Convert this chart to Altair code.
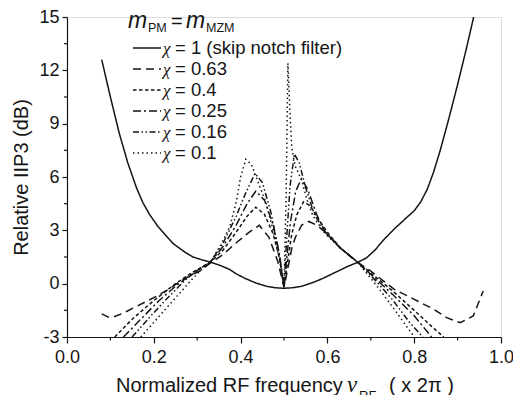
import altair as alt
import pandas as pd

# ---------------- data ----------------
series_names = ["chi=1", "chi=0.63", "chi=0.4", "chi=0.25", "chi=0.16", "chi=0.1"]
legend_labels = ["= 1 (skip notch filter)", "= 0.63", "= 0.4", "= 0.25", "= 0.16", "= 0.1"]
dash_patterns = [[1, 0], [8, 5], [3.5, 2.5], [8, 3, 2, 3], [6, 2.5, 1.5, 2.5, 1.5, 2.5], [1.5, 3]]

x_chi1 = [0.08, 0.10, 0.12, 0.14, 0.16, 0.175, 0.19, 0.21, 0.23, 0.245, 0.27, 0.29, 0.31, 0.33,
          0.35, 0.375, 0.39, 0.41, 0.435, 0.46, 0.48, 0.50, 0.52, 0.54, 0.565, 0.59, 0.617,
          0.645, 0.67, 0.69, 0.71, 0.731, 0.755, 0.784, 0.80, 0.815, 0.83, 0.845, 0.86, 0.88,
          0.90, 0.92, 0.937]
y_chi1 = [12.6, 10.5, 8.5, 6.8, 5.4, 4.55, 3.9, 3.2, 2.65, 2.25, 1.8, 1.5, 1.35, 1.22,
          1.05, 0.8, 0.55, 0.3, 0.04, -0.15, -0.23, -0.26, -0.23, -0.15, 0.05, 0.3, 0.62,
          0.95, 1.2, 1.45, 1.9, 2.5, 3.1, 3.75, 4.1, 4.6, 5.3, 6.3, 7.5, 9.3,
          11.2, 13.2, 15.0]

x_chi063 = [0.08, 0.095, 0.11, 0.13, 0.16, 0.20, 0.234, 0.268, 0.306, 0.33, 0.36, 0.39, 0.42,
            0.443, 0.465, 0.485, 0.50, 0.51, 0.518, 0.526, 0.541, 0.557, 0.575, 0.595, 0.63,
            0.67, 0.70, 0.754, 0.80, 0.845, 0.875, 0.906, 0.936, 0.959]
y_chi063 = [-1.7, -1.88, -1.85, -1.65, -1.28, -0.79, -0.32, 0.25, 0.71, 1.15, 1.65, 2.3, 2.9,
            3.28, 2.62, 1.31, -0.2, 1.0, 2.0, 2.6, 3.3, 3.5, 3.3, 2.9, 2.0,
            1.2, 0.7, -0.32, -0.88, -1.44, -1.91, -2.2, -1.82, -0.41]

x_chi04 = [0.11, 0.15, 0.20, 0.25, 0.29, 0.33, 0.36, 0.39, 0.415, 0.435, 0.455, 0.475, 0.49,
           0.50, 0.508, 0.518, 0.53, 0.545, 0.56, 0.58, 0.60, 0.63, 0.67, 0.71, 0.75, 0.80,
           0.84, 0.868]
y_chi04 = [-3.0, -2.0, -0.95, 0.0, 0.65, 1.2, 1.9, 2.9, 3.8, 4.3, 3.9, 2.8, 1.4,
           -0.2, 1.2, 2.8, 3.9, 4.6, 4.4, 3.6, 2.9, 2.0, 1.2, 0.4, -0.4, -1.5,
           -2.4, -3.0]

x_chi025 = [0.13, 0.17, 0.21, 0.25, 0.29, 0.33, 0.36, 0.39, 0.415, 0.435, 0.455, 0.475, 0.49,
            0.50, 0.507, 0.515, 0.527, 0.54, 0.555, 0.575, 0.595, 0.63, 0.67, 0.71, 0.75,
            0.80, 0.84]
y_chi025 = [-3.0, -2.0, -1.0, -0.15, 0.6, 1.2, 2.1, 3.3, 4.5, 5.2, 4.7, 3.3, 1.6,
            -0.2, 1.6, 3.5, 5.2, 5.9, 5.3, 3.9, 2.9, 2.0, 1.2, 0.3, -0.6,
            -1.8, -3.0]

x_chi016 = [0.15, 0.19, 0.23, 0.27, 0.30, 0.33, 0.36, 0.39, 0.41, 0.433, 0.45, 0.47, 0.488,
            0.50, 0.506, 0.514, 0.524, 0.535, 0.55, 0.57, 0.595, 0.63, 0.67, 0.71, 0.75,
            0.79, 0.82]
y_chi016 = [-3.0, -1.9, -0.85, 0.15, 0.75, 1.2, 2.3, 3.8, 5.0, 6.2, 5.7, 4.0, 1.8,
            -0.2, 2.5, 5.5, 7.3, 6.8, 5.4, 3.9, 2.9, 2.0, 1.2, 0.2, -0.9,
            -2.2, -3.0]

x_chi01 = [0.17, 0.21, 0.25, 0.29, 0.31, 0.33, 0.355, 0.375, 0.39, 0.40, 0.412, 0.425, 0.442,
           0.458, 0.475, 0.49, 0.50, 0.505, 0.509, 0.514, 0.518, 0.526, 0.541, 0.553, 0.567,
           0.595, 0.63, 0.67, 0.71, 0.75, 0.80]
y_chi01 = [-3.0, -1.9, -0.8, 0.3, 0.8, 1.2, 2.2, 3.2, 4.6, 6.0, 7.0, 6.7, 5.6,
           4.6, 3.0, 1.3, -0.2, 5.0, 12.4, 9.5, 7.6, 6.6, 5.8, 4.7, 3.8,
           2.8, 2.0, 1.2, 0.0, -1.3, -3.0]

x_ticks_major = [0.0, 0.2, 0.4, 0.6, 0.8, 1.0]
x_ticks_minor = [0.1, 0.3, 0.5, 0.7, 0.9]
y_ticks_major = [-3, 0, 3, 6, 9, 12, 15]
y_ticks_minor = [-1.5, 1.5, 4.5, 7.5, 10.5, 13.5]

# ---------------- build table ----------------
xs = [x_chi1, x_chi063, x_chi04, x_chi025, x_chi016, x_chi01]
ys = [y_chi1, y_chi063, y_chi04, y_chi025, y_chi016, y_chi01]
rows = []
for name, xv, yv in zip(series_names, xs, ys):
    for i, (a, b) in enumerate(zip(xv, yv)):
        rows.append({"series": name, "x": a, "y": b, "i": i})
df = pd.DataFrame(rows)

SANS = "Liberation Sans, Arial, sans-serif"
SERIF = "Liberation Serif, Times New Roman, serif"
INK = "#151515"

xscale = alt.Scale(domain=[0, 1], nice=False, zero=False)
yscale = alt.Scale(domain=[-3, 15], nice=False, zero=False)

xaxis = alt.Axis(values=x_ticks_major, labelExpr="format(datum.value, '.1f')",
                 title=None, grid=False, tickSize=6, labelPadding=5, labelFlush=False,
                 labelFontSize=18, labelFont=SANS, labelColor=INK,
                 domainColor=INK, tickColor=INK, domainWidth=1.2, tickWidth=1.2)
yaxis = alt.Axis(values=y_ticks_major, labelExpr="'' + datum.value",
                 title="Relative IIP3 (dB)", titleFontSize=20, titleFont=SANS,
                 titleFontWeight="normal", titleColor=INK, titlePadding=7,
                 grid=False, tickSize=5, labelPadding=3, labelFlush=False,
                 labelFontSize=18, labelFont=SANS, labelColor=INK,
                 domainColor=INK, tickColor=INK, domainWidth=1.2, tickWidth=1.2)

lines = alt.Chart(df).mark_line(strokeWidth=1.5, color=INK, clip=True).encode(
    x=alt.X("x:Q", scale=xscale, axis=xaxis),
    y=alt.Y("y:Q", scale=yscale, axis=yaxis),
    strokeDash=alt.StrokeDash("series:N", scale=alt.Scale(domain=series_names, range=dash_patterns),
                              legend=None),
    order=alt.Order("i:Q"),
)

minor_x = alt.Chart(pd.DataFrame({"x": x_ticks_minor})).mark_rule(color=INK, strokeWidth=1.2).encode(
    x=alt.X("x:Q", scale=xscale, axis=xaxis),
    y=alt.value(320), y2=alt.value(323.5),
)
minor_y = alt.Chart(pd.DataFrame({"y": y_ticks_minor})).mark_rule(color=INK, strokeWidth=1.2).encode(
    y=alt.Y("y:Q", scale=yscale, axis=yaxis),
    x=alt.value(0), x2=alt.value(-3),
)

layers = [lines, minor_x, minor_y]


def txt(s, x, y, size, font=SANS, style="normal", align="left"):
    return alt.Chart(pd.DataFrame({"t": [s]})).mark_text(
        font=font, fontSize=size, fontStyle=style, align=align, baseline="alphabetic",
        color=INK).encode(text="t:N", x=alt.value(x), y=alt.value(y))


# legend title  m_PM = m_MZM
layers += [
    txt("m", 61, 11, 23, style="italic"),
    txt("PM", 81, 15, 12.5),
    txt("=", 104, 11, 20),
    txt("m", 119, 11, 23, style="italic"),
    txt("MZM", 139, 15, 12.5),
]

# legend entries
for k, (name, lab, dash) in enumerate(zip(series_names, legend_labels, dash_patterns)):
    base = 37 + 21 * k
    layers.append(
        alt.Chart(pd.DataFrame({"s": [name]})).mark_rule(color=INK, strokeWidth=1.5, strokeDash=dash)
        .encode(x=alt.value(66), x2=alt.value(94), y=alt.value(base - 6))
    )
    layers.append(txt("χ", 96, base, 17, font=SERIF, style="italic"))
    layers.append(txt(lab, 108, base, 18.5))

# x-axis title: Normalized RF frequency ν_RF ( x 2π )
layers += [
    txt("Normalized RF frequency", 49, 375, 20),
    txt("ν", 280, 375, 23, font=SERIF, style="italic"),
    txt("RF", 292, 383, 13),
    txt("( x 2π )", 322, 375, 20),
]

chart = alt.layer(*layers).properties(
    width=434, height=320,
    padding={"left": 59, "top": 9, "right": 12, "bottom": 58},
    autosize=alt.AutoSizeParams(type="none"),
).configure_view(stroke=None).configure(background="white")

chart.save("out.html", embed_options={"renderer": "svg", "actions": False})
